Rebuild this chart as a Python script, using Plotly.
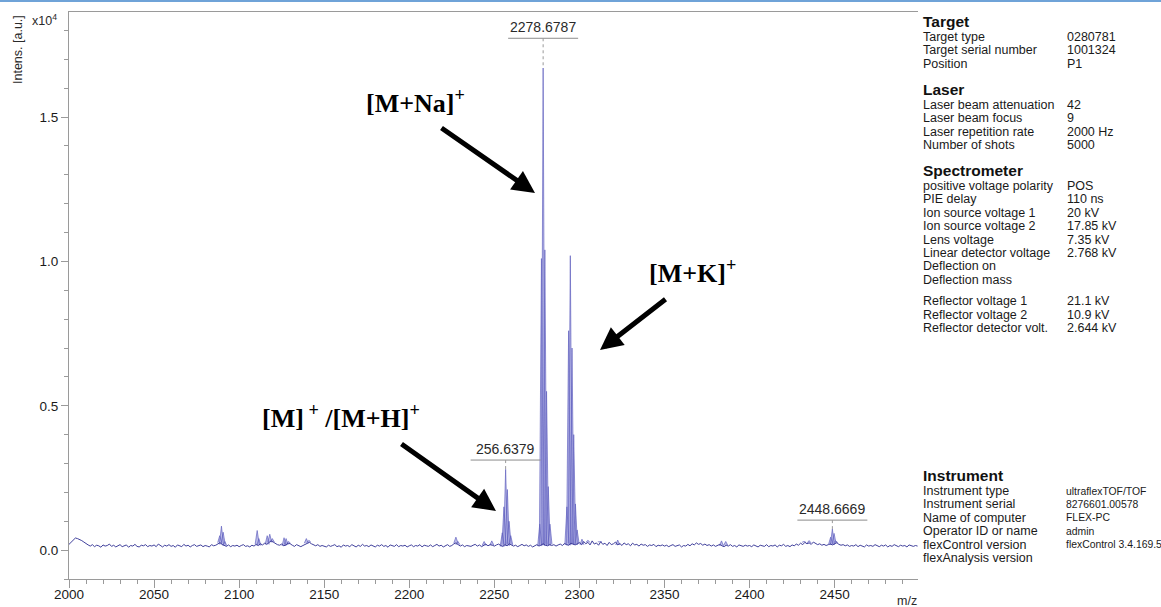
import numpy as np
import plotly.graph_objects as go

# ---------------------------------------------------------------- data
# baseline intensity (x10^4 a.u.) sampled every 1.25 m/z from 2000
mz_start = 2000.0
mz_step = 1.25
baseline = [
    # 2000 - 2048.75
    .020, .028, .036, .042, .040, .037, .033, .028, .022, .018, .014, .019, .012, .017, .015, .010, .018, .014, .016, .021,
    .013, .017, .011, .016, .019, .012, .015, .018, .010, .016, .014, .020, .013, .011, .017, .015, .019, .012, .016, .014,
    # 2050 - 2098.75
    .018, .012, .021, .015, .011, .017, .014, .019, .013, .016, .010, .018, .015, .012, .020, .014, .017, .011, .016, .019,
    .013, .015, .018, .012, .016, .014, .011, .019, .015, .017, .022, .026, .020, .015, .013, .018, .012, .016, .014, .017,
    # 2100 - 2148.75
    .012, .016, .019, .013, .015, .011, .017, .014, .020, .016, .022, .018, .024, .020, .027, .032, .028, .023, .019, .017,
    .021, .015, .018, .024, .022, .017, .013, .019, .015, .012, .016, .020, .024, .027, .022, .018, .015, .019, .013, .016,
    # 2150 - 2198.75
    .014, .011, .017, .013, .016, .019, .012, .015, .010, .018, .014, .016, .012, .019, .015, .011, .017, .013, .020, .014,
    .016, .012, .018, .015, .011, .017, .014, .019, .013, .016, .010, .018, .015, .013, .019, .012, .016, .014, .017, .011,
    # 2200 - 2248.75
    .015, .018, .012, .016, .014, .019, .011, .017, .015, .013, .018, .012, .016, .020, .014, .017, .011, .015, .019, .013,
    .016, .022, .025, .019, .014, .018, .012, .016, .015, .013, .017, .020, .014, .018, .012, .016, .021, .015, .019, .017,
    # 2250 - 2298.75
    .014, .018, .021, .016, .013, .019, .015, .022, .018, .014, .017, .012, .016, .020, .015, .018, .013, .017, .011, .016,
    .019, .014, .018, .022, .017, .015, .020, .016, .019, .014, .018, .021, .016, .023, .019, .017, .024, .020, .018, .022,
    # 2300 - 2348.75
    .026, .019, .030, .022, .027, .018, .032, .021, .025, .017, .029, .020, .024, .016, .027, .019, .022, .028, .018, .023,
    .016, .025, .019, .022, .015, .024, .018, .020, .014, .021, .017, .019, .013, .018, .016, .020, .012, .017, .015, .018,
    # 2350 - 2398.75
    .014, .017, .012, .016, .019, .013, .015, .018, .011, .016, .014, .020, .015, .022, .018, .025, .020, .023, .017, .021,
    .016, .019, .014, .018, .013, .016, .020, .015, .012, .017, .014, .019, .013, .016, .011, .018, .015, .013, .017, .014,
    # 2400 - 2448.75
    .016, .012, .018, .014, .011, .017, .015, .013, .019, .012, .016, .014, .018, .011, .017, .015, .020, .013, .016, .012,
    .018, .015, .021, .017, .024, .019, .027, .022, .025, .020, .028, .023, .019, .022, .017, .020, .016, .019, .021, .018,
    # 2450 - 2498.75
    .022, .026, .020, .017, .019, .015, .018, .013, .016, .014, .019, .012, .017, .015, .011, .018, .014, .016, .013, .019,
    .015, .012, .017, .014, .018, .011, .016, .013, .019, .015, .012, .017, .014, .016, .011, .018, .015, .013, .016, .014,
]

# isotope / signal lines: m/z and apex intensity (x10^4 a.u.)
peak_mz = [
    2088.6, 2089.6, 2090.6, 2091.6,
    2110.6, 2111.6,
    2116.5, 2118.0, 2119.5,
    2126.4, 2127.6, 2129.0,
    2139.5, 2141.0,
    2227.4, 2228.6,
    2244.0, 2248.5,
    2254.64, 2255.64, 2256.6379, 2257.64, 2258.64, 2259.64,
    2276.68, 2277.68, 2278.6787, 2279.68, 2280.68, 2281.68, 2282.68,
    2292.65, 2293.65, 2294.65, 2295.65, 2296.65, 2297.65, 2298.65,
    2301.5, 2305.0, 2312.0, 2322.5,
    2383.5, 2386.0,
    2432.0, 2435.0,
    2447.67, 2448.6669, 2449.67, 2450.67,
]
peak_int = [
    0.050, 0.083, 0.062, 0.030,
    0.068, 0.040,
    0.050, 0.055, 0.040,
    0.043, 0.040, 0.030,
    0.040, 0.034,
    0.045, 0.030,
    0.030, 0.032,
    0.060, 0.150, 0.280, 0.210, 0.100, 0.050,
    0.090, 1.010, 1.670, 1.040, 0.550, 0.220, 0.090,
    0.150, 0.760, 1.020, 0.700, 0.400, 0.160, 0.070,
    0.038, 0.034, 0.030, 0.035,
    0.032, 0.030,
    0.030, 0.033,
    0.045, 0.073, 0.058, 0.032,
]

# annotated peaks
label_mz = [2278.6787, 2256.6379, 2448.6669]
label_text = ["2278.6787", "256.6379", "2448.6669"]

# x / y tick labels
x_ticks = [2000, 2050, 2100, 2150, 2200, 2250, 2300, 2350, 2400, 2450]
y_ticks = [0.0, 0.5, 1.0, 1.5]
y_ticktext = ["0.0", "0.5", "1.0", "1.5"]

# acquisition info panel
info_sections = [
    ("Target", [("Target type", "0280781"),
                ("Target serial number", "1001324"),
                ("Position", "P1")]),
    ("Laser", [("Laser beam attenuation", "42"),
               ("Laser beam focus", "9"),
               ("Laser repetition rate", "2000 Hz"),
               ("Number of shots", "5000")]),
    ("Spectrometer", [("positive voltage polarity", "POS"),
                      ("PIE delay", "110 ns"),
                      ("Ion source voltage 1", "20 kV"),
                      ("Ion source voltage 2", "17.85 kV"),
                      ("Lens voltage", "7.35 kV"),
                      ("Linear detector voltage", "2.768 kV"),
                      ("Deflection on", ""),
                      ("Deflection mass", ""),
                      (None, None),
                      ("Reflector voltage 1", "21.1 kV"),
                      ("Reflector voltage 2", "10.9 kV"),
                      ("Reflector detector volt.", "2.644 kV")]),
    ("Instrument", [("Instrument type", "ultraflexTOF/TOF"),
                    ("Instrument serial", "8276601.00578"),
                    ("Name of computer", "FLEX-PC"),
                    ("Operator ID or name", "admin"),
                    ("flexControl version", "flexControl 3.4.169.5"),
                    ("flexAnalysis version", "")]),
]

# ---------------------------------------------------------------- build the traces
grid = mz_start + mz_step * np.arange(len(baseline))

half_w = 1.2
pk_x, pk_y = [], []
for m, h in zip(peak_mz, peak_int):
    b = baseline[int(round((m - mz_start) / mz_step))]
    pk_x += [m - half_w, m, m + half_w, None]
    pk_y += [b, h, b, None]

# ---------------------------------------------------------------- layout helpers
W, H = 1161, 607
PL, PR, PT, PB = 69, 918, 12, 579   # plot area in pixels


def px(x):
    return (x - PL) / (PR - PL)


def py(y):
    return (PB - y) / (PB - PT)


SANS = "Liberation Sans, Arial, sans-serif"
SERIF = "Liberation Serif, Times New Roman, serif"
AXIS_GREY = "#9a9a9a"

fig = go.Figure()
fig.add_trace(go.Scatter(
    x=pk_x, y=pk_y, mode="lines", fill="toself",
    fillcolor="rgba(135,135,215,0.55)",
    line=dict(color="rgba(95,95,190,0.85)", width=0.8),
    hoverinfo="skip", showlegend=False,
))
fig.add_trace(go.Scatter(
    x=grid, y=baseline, mode="lines",
    line=dict(color="#40409c", width=1),
    hoverinfo="skip", showlegend=False,
))

annotations = []
shapes = []

# peak labels with underline and leader
label_y = [1.773, 0.312, 0.104]
peak_lookup = dict(zip(peak_mz, peak_int))
for m, txt, ly in zip(label_mz, label_text, label_y):
    annotations.append(dict(
        x=m, y=ly, xref="x", yref="y", text=txt, showarrow=False,
        xanchor="center", yanchor="bottom", yshift=1,
        font=dict(family=SANS, size=14, color="#2a2a2a"),
    ))
    shapes.append(dict(
        type="line", xref="x", yref="y", xsizemode="pixel", xanchor=m,
        x0=-35, x1=35, y0=ly, y1=ly, line=dict(color="#8c8c8c", width=1),
    ))
    shapes.append(dict(
        type="line", xref="x", yref="y", x0=m, x1=m,
        y0=ly, y1=peak_lookup[m], line=dict(color="#9a9a9a", width=1, dash="dot"),
    ))

# ion assignments with arrows
ion_labels = [
    ("[M+Na]<sup>+</sup>", 415, 101),
    ("[M+K]<sup>+</sup>", 692, 271),
    ("[M]<sup> +</sup> /[M+H]<sup>+</sup>", 341, 416),
]
for txt, cx, cy in ion_labels:
    annotations.append(dict(
        x=px(cx), y=py(cy), xref="paper", yref="paper", text="<b>" + txt + "</b>",
        showarrow=False, xanchor="center", yanchor="middle",
        font=dict(family=SERIF, size=26, color="#000000"),
    ))

arrows = [((440, 127), (535, 193)), ((667, 298), (600, 350)), ((400, 443), (496, 511))]
for (tx, ty), (hx, hy) in arrows:
    annotations.append(dict(
        x=px(hx), y=py(hy), xref="paper", yref="paper", text="",
        showarrow=True, ax=tx - hx, ay=ty - hy, axref="pixel", ayref="pixel",
        arrowhead=2, arrowsize=0.9, arrowwidth=5, arrowcolor="#000000", standoff=0,
    ))

# axis titles
annotations.append(dict(
    x=px(18), y=py(50), xref="paper", yref="paper", text="Intens. [a.u.]",
    textangle=-90, showarrow=False, xanchor="center", yanchor="middle",
    font=dict(family=SANS, size=12.5, color="#2a2a2a"),
))
annotations.append(dict(
    x=px(30), y=py(20), xref="paper", yref="paper", text="x10<sup>4</sup>",
    showarrow=False, xanchor="left", yanchor="middle",
    font=dict(family=SANS, size=12.5, color="#2a2a2a"),
))
annotations.append(dict(
    x=px(907), y=py(601), xref="paper", yref="paper", text="m/z",
    showarrow=False, xanchor="center", yanchor="middle",
    font=dict(family=SANS, size=12.5, color="#2a2a2a"),
))

# info panel
KEY_X, VAL_X = 921, 1065
section_tops = [21, 89, 170, 475]
row_gap = 13.4
for (title, rows), top in zip(info_sections, section_tops):
    annotations.append(dict(
        x=px(KEY_X), y=py(top), xref="paper", yref="paper", text="<b>" + title + "</b>",
        showarrow=False, xanchor="left", yanchor="middle",
        font=dict(family=SANS, size=15.5, color="#111111"),
    ))
    narrow = title == "Instrument"
    val_size = 10.4 if narrow else 12.5
    val_x = VAL_X - 1 if narrow else VAL_X
    yc = top + 16
    for key, val in rows:
        if key is None:
            yc += 8
            continue
        annotations.append(dict(
            x=px(KEY_X), y=py(yc), xref="paper", yref="paper", text=key,
            showarrow=False, xanchor="left", yanchor="middle",
            font=dict(family=SANS, size=12.5, color="#1a1a1a"),
        ))
        if val:
            annotations.append(dict(
                x=px(val_x), y=py(yc), xref="paper", yref="paper", text=val,
                showarrow=False, xanchor="left", yanchor="middle",
                font=dict(family=SANS, size=val_size, color="#1a1a1a"),
            ))
        yc += row_gap

# page header rule
shapes.append(dict(
    type="line", xref="paper", yref="paper", x0=px(0), x1=px(W), y0=py(1), y1=py(1),
    line=dict(color="#6fa3d8", width=2),
))

fig.update_layout(
    width=W, height=H,
    margin=dict(l=PL, r=W - PR, t=PT, b=H - PB, pad=0, autoexpand=False),
    paper_bgcolor="white", plot_bgcolor="white",
    annotations=annotations, shapes=shapes,
    xaxis=dict(
        range=[2000, 2499], tickmode="array", tickvals=x_ticks, automargin=False,
        ticks="outside", ticklen=8, tickcolor=AXIS_GREY, tickwidth=1,
        ticklabelstandoff=-5,
        showline=True, linecolor=AXIS_GREY, linewidth=1, mirror=True,
        showgrid=False, zeroline=False,
        tickfont=dict(family=SANS, size=13.5, color="#1a1a1a"),
        minor=dict(dtick=10, tick0=2000, ticks="outside", ticklen=4,
                   tickcolor=AXIS_GREY, showgrid=False),
    ),
    yaxis=dict(
        range=[-0.1, 1.864], tickmode="array", tickvals=y_ticks, ticktext=y_ticktext,
        automargin=False,
        ticks="outside", ticklen=7, tickcolor=AXIS_GREY, tickwidth=1,
        showline=True, linecolor=AXIS_GREY, linewidth=1,
        showgrid=False, zeroline=False,
        tickfont=dict(family=SANS, size=13.5, color="#1a1a1a"),
        minor=dict(dtick=0.1, tick0=0, ticks="outside", ticklen=4,
                   tickcolor=AXIS_GREY, showgrid=False),
    ),
)

fig.write_html("out.html")
